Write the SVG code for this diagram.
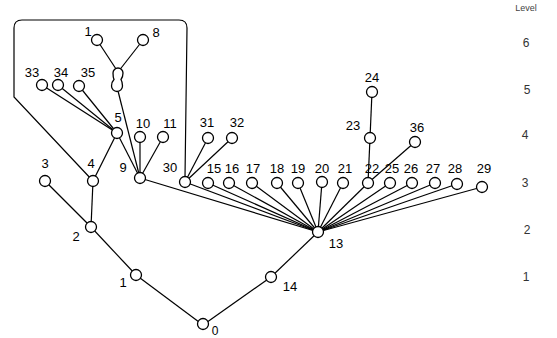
<svg xmlns="http://www.w3.org/2000/svg" width="557" height="338" viewBox="0 0 557 338">
<style>
.e{stroke:#000;stroke-width:1.2;fill:none}
.n circle,.n path{fill:#fff;stroke:#000;stroke-width:1.3}
text{font-family:"Liberation Sans",Arial,sans-serif;font-size:13px;fill:#000;text-anchor:middle}
.lv{font-size:12px;fill:#333}
</style>
<rect width="557" height="338" fill="#fff"/>
<g id="connectors">
<path class="e" d="M93,181 L14,97 L14,28 Q14,20 22,20 L179,20 Q187,20 187,28 L185,177"/>
<line class="e" x1="203" y1="325" x2="136" y2="275"/>
<line class="e" x1="203" y1="325" x2="271" y2="277"/>
<line class="e" x1="271" y1="277" x2="318" y2="232"/>
<line class="e" x1="136" y1="275" x2="91" y2="227"/>
<line class="e" x1="91" y1="227" x2="45" y2="181"/>
<line class="e" x1="91" y1="227" x2="93" y2="181"/>
<line class="e" x1="93" y1="181" x2="117" y2="133"/>
<line class="e" x1="117" y1="133" x2="42" y2="85"/>
<line class="e" x1="117" y1="133" x2="58" y2="85"/>
<line class="e" x1="117" y1="133" x2="79" y2="86"/>
<line class="e" x1="117" y1="133" x2="140" y2="178"/>
<line class="e" x1="117" y1="87" x2="140" y2="178"/>
<line class="e" x1="118" y1="72" x2="97" y2="40"/>
<line class="e" x1="118" y1="72" x2="143" y2="40"/>
<line class="e" x1="140" y1="137" x2="140" y2="178"/>
<line class="e" x1="163" y1="137" x2="140" y2="178"/>
<line class="e" x1="140" y1="178" x2="318" y2="232"/>
<line class="e" x1="185" y1="182" x2="318" y2="232"/>
<line class="e" x1="208" y1="138" x2="185" y2="182"/>
<line class="e" x1="232" y1="138" x2="185" y2="182"/>
<line class="e" x1="208" y1="183" x2="318" y2="232"/>
<line class="e" x1="229" y1="183" x2="318" y2="232"/>
<line class="e" x1="252" y1="183" x2="318" y2="232"/>
<line class="e" x1="277" y1="183" x2="318" y2="232"/>
<line class="e" x1="298" y1="183" x2="318" y2="232"/>
<line class="e" x1="322" y1="182" x2="318" y2="232"/>
<line class="e" x1="343" y1="183" x2="318" y2="232"/>
<line class="e" x1="368" y1="183" x2="318" y2="232"/>
<line class="e" x1="390" y1="183" x2="318" y2="232"/>
<line class="e" x1="412" y1="183" x2="318" y2="232"/>
<line class="e" x1="435" y1="183" x2="318" y2="232"/>
<line class="e" x1="457" y1="184" x2="318" y2="232"/>
<line class="e" x1="482" y1="187" x2="318" y2="232"/>
<line class="e" x1="370" y1="138" x2="368" y2="183"/>
<line class="e" x1="372" y1="92" x2="370" y2="138"/>
<line class="e" x1="415" y1="142" x2="368" y2="183"/>
</g>
<g class="n">
<g id="n0"><circle cx="203" cy="324" r="5.5"/><text x="215" y="335" style="font-size:12px">0</text></g>
<g id="n1"><circle cx="136" cy="275" r="5.5"/><text x="123" y="287">1</text></g>
<g id="n14"><circle cx="271" cy="277" r="5.5"/><text x="290" y="291">14</text></g>
<g id="n13"><circle cx="318" cy="232" r="5.5"/><text x="336" y="248">13</text></g>
<g id="n2"><circle cx="91" cy="227" r="5.5"/><text x="76" y="241">2</text></g>
<g id="n3"><circle cx="45" cy="181" r="5.5"/><text x="45" y="168">3</text></g>
<g id="n4"><circle cx="93" cy="181" r="5.5"/><text x="91" y="168">4</text></g>
<g id="n5"><circle cx="117" cy="133" r="5.5"/><text x="118" y="122">5</text></g>
<g id="n33"><circle cx="42" cy="85" r="5.5"/><text x="32" y="77">33</text></g>
<g id="n34"><circle cx="58" cy="85" r="5.5"/><text x="61" y="77">34</text></g>
<g id="n35"><circle cx="79" cy="86" r="5.5"/><text x="88" y="77">35</text></g>
<g id="n6"><path d="M113,73 A5,5 0 0 1 123,73 Q123,77 121,79.5 Q122.5,82 122.5,86 A5.5,5.5 0 0 1 111.5,86 Q111.5,82 114,79.5 Q113,77 113,73 Z"/></g>
<g id="n1b"><circle cx="97" cy="40" r="5.5"/><text x="88" y="36">1</text></g>
<g id="n8"><circle cx="143" cy="40" r="5.5"/><text x="156" y="37">8</text></g>
<g id="n9"><circle cx="140" cy="178" r="5.5"/><text x="123" y="172">9</text></g>
<g id="n10"><circle cx="140" cy="137" r="5.5"/><text x="143" y="128">10</text></g>
<g id="n11"><circle cx="163" cy="137" r="5.5"/><text x="170" y="128">11</text></g>
<g id="n30"><circle cx="185" cy="182" r="5.5"/><text x="170" y="172">30</text></g>
<g id="n31"><circle cx="208" cy="138" r="5.5"/><text x="207" y="127">31</text></g>
<g id="n32"><circle cx="232" cy="138" r="5.5"/><text x="237" y="127">32</text></g>
<g id="n15"><circle cx="208" cy="183" r="5.5"/><text x="214" y="173">15</text></g>
<g id="n16"><circle cx="229" cy="183" r="5.5"/><text x="232" y="173">16</text></g>
<g id="n17"><circle cx="252" cy="183" r="5.5"/><text x="253" y="173">17</text></g>
<g id="n18"><circle cx="277" cy="183" r="5.5"/><text x="277" y="173">18</text></g>
<g id="n19"><circle cx="298" cy="183" r="5.5"/><text x="298" y="173">19</text></g>
<g id="n20"><circle cx="322" cy="182" r="5.5"/><text x="322" y="173">20</text></g>
<g id="n21"><circle cx="343" cy="183" r="5.5"/><text x="345" y="173">21</text></g>
<g id="n22"><circle cx="368" cy="183" r="5.5"/><text x="372" y="173">22</text></g>
<g id="n25"><circle cx="390" cy="183" r="5.5"/><text x="392" y="173">25</text></g>
<g id="n26"><circle cx="412" cy="183" r="5.5"/><text x="411" y="173">26</text></g>
<g id="n27"><circle cx="435" cy="183" r="5.5"/><text x="433" y="173">27</text></g>
<g id="n28"><circle cx="457" cy="184" r="5.5"/><text x="455" y="173">28</text></g>
<g id="n29"><circle cx="482" cy="187" r="5.5"/><text x="484" y="173">29</text></g>
<g id="n23"><circle cx="370" cy="138" r="5.5"/><text x="353" y="130">23</text></g>
<g id="n24"><circle cx="372" cy="92" r="5.5"/><text x="372" y="82">24</text></g>
<g id="n36"><circle cx="415" cy="142" r="5.5"/><text x="417" y="132">36</text></g>
</g>
<g id="levels">
<text x="526" y="11" style="font-size:9px;fill:#444">Level</text>
<text class="lv" x="526" y="47">6</text>
<text class="lv" x="527" y="94">5</text>
<text class="lv" x="525" y="139">4</text>
<text class="lv" x="525" y="187">3</text>
<text class="lv" x="527" y="234">2</text>
<text class="lv" x="526" y="281">1</text>
</g>
</svg>
